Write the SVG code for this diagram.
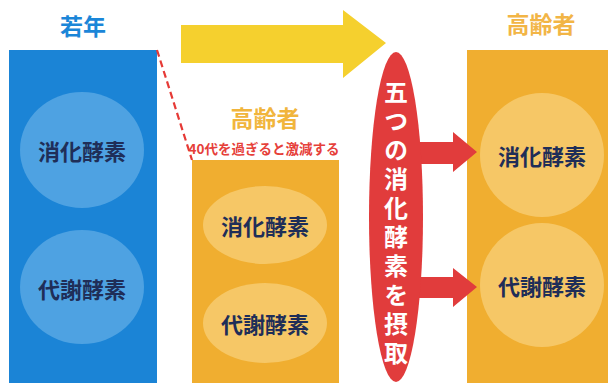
<svg xmlns="http://www.w3.org/2000/svg" width="608" height="383" viewBox="0 0 608 383">
<style>
.t{font-family:"Noto Sans CJK JP","Noto Sans CJK SC",sans-serif;font-weight:bold;}
.lbl{font-size:22px;fill:#1f2e58;text-anchor:middle;dominant-baseline:central;}
.ttl{font-size:23px;text-anchor:middle;dominant-baseline:central;}
</style>
<rect width="608" height="383" fill="#ffffff"/>
<g id="young">
<text class="t ttl" x="83" y="25" fill="#1b86d8">若年</text>
<rect x="9" y="50" width="148" height="340" fill="#1b84d6"/>
<ellipse cx="82" cy="150" rx="62" ry="58" fill="#4ea2e2"/>
<text class="t lbl" x="82" y="150">消化酵素</text>
<ellipse cx="82" cy="287" rx="62" ry="57" fill="#4ea2e2"/>
<text class="t lbl" x="82" y="288">代謝酵素</text>
</g>
<g id="elderly-mid">
<text class="t ttl" x="265" y="117" fill="#f1b53c">高齢者</text>
<text class="t" x="264" y="148" font-size="13.5" fill="#e6403a" text-anchor="middle" dominant-baseline="central">40代を過ぎると激減する</text>
<rect x="192" y="160" width="147" height="230" fill="#f0ae30"/>
<ellipse cx="265" cy="225" rx="62" ry="39" fill="#f6c766"/>
<text class="t lbl" x="265" y="225">消化酵素</text>
<ellipse cx="265" cy="323" rx="62" ry="40" fill="#f6c766"/>
<text class="t lbl" x="265" y="323">代謝酵素</text>
</g>
<g id="elderly-right">
<text class="t ttl" x="541" y="23" fill="#f2b546">高齢者</text>
<rect x="467" y="50" width="150" height="340" fill="#f0ae30"/>
<circle cx="542" cy="155" r="62" fill="#f6c766"/>
<text class="t lbl" x="542" y="155">消化酵素</text>
<circle cx="542" cy="285" r="62" fill="#f6c766"/>
<text class="t lbl" x="542" y="285">代謝酵素</text>
</g>
<g id="connectors">
<polygon points="181,25 343,25 343,10 386,43 343,78 343,63 181,63" fill="#f5d02e"/>
<line x1="157" y1="50" x2="192" y2="160" stroke="#e63a36" stroke-width="2.2" stroke-dasharray="7,4"/>
<polygon points="410,142 453,142 453,132 477,152 453,172 453,164 410,164" fill="#e13c3c"/>
<polygon points="410,277 453,277 453,268 477,287 453,307 453,298 410,298" fill="#e13c3c"/>
</g>
<g id="intake">
<ellipse cx="396" cy="217" rx="27" ry="165" fill="#e13c3c"/>
<text class="t" x="396" y="80" font-size="24" fill="#ffffff" writing-mode="vertical-rl" letter-spacing="5">五つの消化酵素を摂取</text>
</g>
</svg>
